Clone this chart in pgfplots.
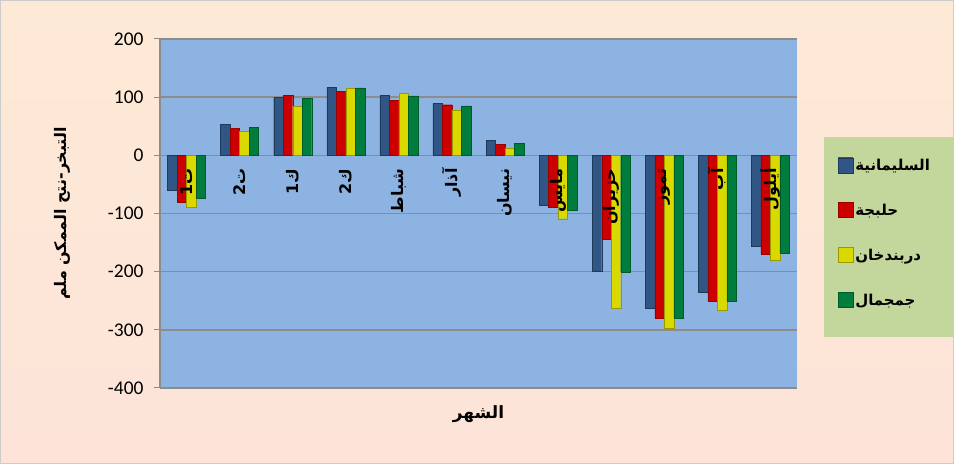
\documentclass[border=0pt]{standalone}
\usepackage{fontspec}
\usepackage{pgfplots}
\pgfplotsset{compat=1.18}
\TeXXeTstate=1
\setmainfont{Carlito}
\newfontfamily\arabicfont[Script=Arabic]{DejaVu Sans}
\newcommand{\ar}[1]{{\arabicfont\bfseries\beginR #1\endR}}
\definecolor{plotblue}{HTML}{8DB3E2}
\definecolor{gridgray}{HTML}{8C8C8C}
\definecolor{legendgreen}{HTML}{C3D69B}
\definecolor{barblue}{HTML}{3F72B0}
\definecolor{barred}{HTML}{FF0000}
\definecolor{baryellow}{HTML}{FFFF00}
\definecolor{bargreen}{HTML}{00A550}
\definecolor{bgtop}{HTML}{FDEAD6}
\definecolor{bgmid}{HTML}{F9BD8E}
\definecolor{bgbot}{HTML}{FDE3D8}
\begin{document}
\begin{tikzpicture}
\shade[top color=bgtop, middle color=bgmid, bottom color=bgbot] (0,0) rectangle (954bp,464bp);
\draw[gray!40, line width=1bp] (0.5bp,0.5bp) rectangle (953.5bp,463.5bp);
\fill[legendgreen] (824bp,127bp) rectangle (954bp,327bp);
\begin{axis}[
  at={(160bp,76bp)}, anchor=south west,
  scale only axis, width=637bp, height=349bp,
  xmin=-0.5, xmax=11.5, ymin=-400, ymax=200,
  ytick={-400,-300,-200,-100,0,100,200},
  yticklabels={-400,-300,-200,-100,0,100,200},
  yticklabel style={font=\fontsize{19.5}{21}\selectfont, xshift=-7bp},
  xtick=\empty,
  ytick pos=left,
  tick align=outside, major tick length=6bp,
  tick style={gridgray, line width=1bp},
  axis line style={draw=none},
  axis background/.style={fill=plotblue},
  ymajorgrids, grid style={gridgray, line width=1.5bp},
  ybar=0pt, bar width=9.5bp,
  clip=false,
  ylabel={{\arabicfont\bfseries\beginR التبخر-نتح الممكن ملم\endR}},
  ylabel style={at={(axis description cs:-0.154,0.5)}, anchor=center, rotate=0, font=\fontsize{16}{18}\selectfont},
  xlabel={\ar{الشهر}},
  xlabel style={at={(axis description cs:0.5,-0.075)}, anchor=center, font=\fontsize{17}{19}\selectfont},
  legend style={at={(1.064,0.444)}, anchor=west, fill=none, draw=none,
    font=\fontsize{15}{17}\selectfont, row sep=28bp, inner sep=0pt,
    /tikz/every even column/.append style={column sep=6bp}},
  legend cell align=left,
  legend image code/.code={\draw[#1] (0bp,-7bp) rectangle (15bp,8bp);},
  extra description/.code={\draw[gridgray, line width=1.5bp] (0,0)--(0,1);},
]
\addplot[left color=barblue!75!black, middle color=barblue!80!white, right color=barblue!75!black, draw=barblue!50!black, line width=0.4bp]
 coordinates {(0,-60) (1,53) (2,100) (3,117) (4,103) (5,89) (6,26) (7,-86) (8,-200) (9,-263) (10,-235) (11,-157)};
\addplot[left color=barred!80!black, middle color=barred!90!white, right color=barred!80!black, draw=barred!60!black, line width=0.4bp]
 coordinates {(0,-80) (1,46) (2,103) (3,110) (4,94) (5,87) (6,19) (7,-89) (8,-144) (9,-280) (10,-251) (11,-170)};
\addplot[left color=baryellow!85!black, middle color=baryellow!80!white, right color=baryellow!85!black, draw=baryellow!60!black, line width=0.4bp]
 coordinates {(0,-89) (1,41) (2,84) (3,116) (4,106) (5,78) (6,13) (7,-109) (8,-263) (9,-297) (10,-266) (11,-180)};
\addplot[left color=bargreen!75!black, middle color=bargreen!85!white, right color=bargreen!75!black, draw=bargreen!55!black, line width=0.4bp]
 coordinates {(0,-74) (1,48) (2,98) (3,116) (4,102) (5,85) (6,20) (7,-95) (8,-201) (9,-280) (10,-251) (11,-168)};
\legend{\ar{السليمانية},\ar{حلبجة},\ar{دربندخان},\ar{جمجمال}}
\foreach \i/\t in {0/ت1,1/ت2,2/ك1,3/ك2,4/شباط,5/آذار,6/نيسان,7/مايس,8/حزيران,9/تموز,10/آب,11/أيلول}{
  \edef\temp{\noexpand\node[rotate=90, anchor=east, inner sep=0pt, font=\noexpand\fontsize{16}{18}\noexpand\selectfont] at ([yshift=-13bp]axis cs:\i,0) {\noexpand\ar{\t}};}
  \temp
}
\end{axis}
\pgfresetboundingbox
\useasboundingbox (0,0) rectangle (954bp,464bp);
\end{tikzpicture}
\end{document}
